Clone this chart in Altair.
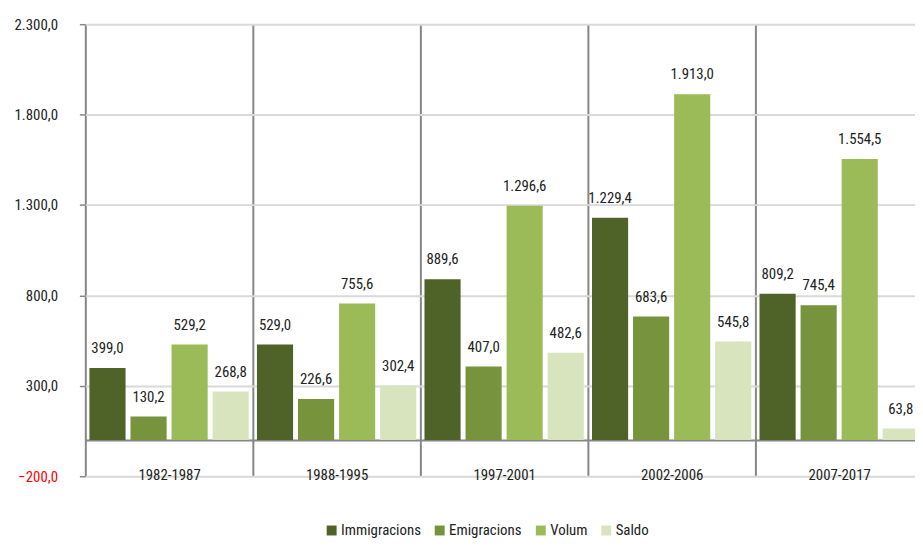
import altair as alt
import pandas as pd

periods = ["1982-1987", "1988-1995", "1997-2001", "2002-2006", "2007-2017"]
series = ["Immigracions", "Emigracions", "Volum", "Saldo"]
immigracions = [399.0, 529.0, 889.6, 1229.4, 809.2]
emigracions = [130.2, 226.6, 407.0, 683.6, 745.4]
volum = [529.2, 755.6, 1296.6, 1913.0, 1554.5]
saldo = [268.8, 302.4, 482.6, 545.8, 63.8]
colors = ["#4f6228", "#77933c", "#9bbb59", "#d7e4bd"]
y_ticks = [-200, 300, 800, 1300, 1800, 2300]

rows = []
for i, p in enumerate(periods):
    for s, vals in zip(series, [immigracions, emigracions, volum, saldo]):
        rows.append({"period": p, "serie": s, "value": vals[i]})
df = pd.DataFrame(rows)

FONT = "Roboto Condensed, DejaVu Sans Condensed, Roboto, sans-serif"
TXT = "#222222"


def euro(v):
    return ("replace(replace(replace(format(" + v + ", ',.1f'), ',', '#'), '.', ','), '#', '.')")


# the original chart is wider than the window: its last group is cut at the right edge
x_enc = alt.X(
    "period:N", sort=periods,
    scale=alt.Scale(paddingInner=0, paddingOuter=0, range=[0, 845]),
    axis=alt.Axis(
        title=None, orient="bottom", offset=-36.5, labelAngle=0,
        labelFontSize=15, labelFont=FONT, labelColor=TXT, labelPadding=28,
        ticks=False, domainColor="#868686", domainWidth=2,
        grid=True, gridColor="#868686", gridWidth=2, tickBand="extent",
    ),
)
y_enc = alt.Y(
    "value:Q",
    scale=alt.Scale(domain=[-200, 2300], nice=False, zero=False),
    axis=alt.Axis(
        title=None, values=y_ticks, labelExpr=euro("datum.value"),
        labelColor={"condition": {"test": "datum.value < 0", "value": "#ff0000"}, "value": TXT},
        labelFontSize=15, labelFont=FONT, labelPadding=22,
        tickSize=6, tickColor="#888888", tickWidth=1.5, domain=False,
        gridColor="#d9d9d9", gridWidth=2,
    ),
)
xoff = alt.XOffset("serie:N", sort=series, scale=alt.Scale(paddingInner=0.12, paddingOuter=0.1))

base = alt.Chart(df).transform_calculate(label=euro("datum.value"))

bars = base.mark_bar().encode(
    x=x_enc, xOffset=xoff, y=y_enc, y2=alt.datum(0),
    color=alt.Color(
        "serie:N", sort=series,
        scale=alt.Scale(domain=series, range=colors),
        legend=alt.Legend(
            title=None, orient="none", legendX=241, legendY=503,
            direction="horizontal", symbolType="square", symbolSize=100,
            symbolStrokeWidth=0, labelFontSize=15, labelFont=FONT,
            labelColor=TXT, columnPadding=11, labelOffset=2,
        ),
    ),
)

labels = base.mark_text(baseline="bottom", dy=-12, fontSize=15, font=FONT, color=TXT).encode(
    x=x_enc, xOffset=xoff, y=y_enc, text="label:N",
)

chart = alt.layer(bars, labels).properties(
    width=837, height=456,
    autosize=alt.AutoSizeParams(type="none"),
    padding={"left": 78, "top": 14, "right": 0, "bottom": 64},
).configure_view(stroke=None)

chart.save("out.html", embed_options={"renderer": "svg", "actions": False})
